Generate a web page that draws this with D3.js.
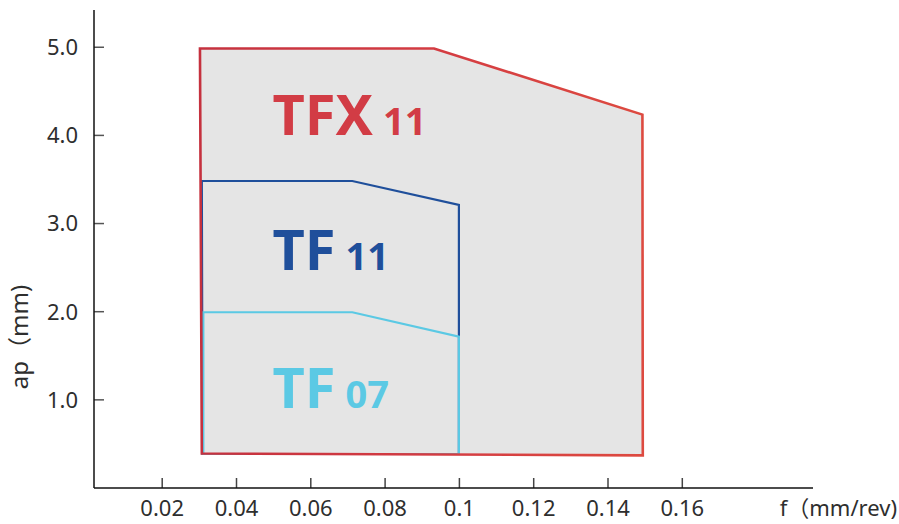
<!DOCTYPE html>
<html>
<head>
<meta charset="utf-8">
<script src="https://cdn.jsdelivr.net/npm/d3@7"></script>
<style>
  html, body { margin: 0; padding: 0; background: #fff; }
  svg { display: block; }
</style>
</head>
<body>
<svg id="chart" width="899" height="524"></svg>
<script>
// ---- data ----
const xTicks = [0.02, 0.04, 0.06, 0.08, 0.1, 0.12, 0.14, 0.16];
const xTickLabels = ["0.02", "0.04", "0.06", "0.08", "0.1", "0.12", "0.14", "0.16"];
const yTicks = [1, 2, 3, 4, 5];
const yTickLabels = ["1.0", "2.0", "3.0", "4.0", "5.0"];

// region outlines: [f (mm/rev), ap (mm)]
const tfx11 = [[0.0303, 4.98], [0.0933, 4.98], [0.1494, 4.23], [0.1495, 0.365], [0.0308, 0.385]];
const tf11  = [[0.0308, 3.477], [0.0713, 3.477], [0.1000, 3.205], [0.1000, 0.38], [0.0310, 0.38]];
const tf07  = [[0.0312, 1.988], [0.0713, 1.988], [0.1000, 1.711], [0.1000, 0.38], [0.0312, 0.38]];

const regionNames = ["TFX", "TF", "TF"];
const regionSizes = ["11", "11", "07"];
const regionLabelPos = [[0.0498, 4.0], [0.0498, 2.47], [0.0498, 0.9]];
const xTitle = "f（mm/rev)";
const yTitle = "ap（mm)";

// ---- layout ----
const svg = d3.select("#chart");
const FONT = "'Noto Sans', 'Noto Sans CJK KR', sans-serif";
const x = d3.scaleLinear().domain([0, 0.2]).range([87.4, 87.4 + 0.2 * 3715]);
const y = d3.scaleLinear().domain([0, 5]).range([487.5, 487.5 - 5 * 88.15]);
const axisLeftX = 94, axisBottomY = 488;

const line = d3.line().x(d => x(d[0])).y(d => y(d[1])).curve(d3.curveLinearClosed);

// fill
svg.append("path").attr("d", line(tfx11)).attr("fill", "#e5e5e5").attr("stroke", "none");
// inner outlines
svg.append("path").attr("d", line(tf11)).attr("fill", "none")
  .attr("stroke", "#1f4f9b").attr("stroke-width", 2.2).attr("stroke-linejoin", "miter");
svg.append("path").attr("d", line(tf07)).attr("fill", "none")
  .attr("stroke", "#5bc9e4").attr("stroke-width", 2.2).attr("stroke-linejoin", "miter");

// red outline with slight gradient
const defs = svg.append("defs");
const grad = defs.append("linearGradient").attr("id", "redg")
  .attr("gradientUnits", "userSpaceOnUse")
  .attr("x1", x(0.03)).attr("x2", x(0.15)).attr("y1", 0).attr("y2", 0);
grad.append("stop").attr("offset", 0).attr("stop-color", "#c5313e");
grad.append("stop").attr("offset", 0.5).attr("stop-color", "#d33b42");
grad.append("stop").attr("offset", 1).attr("stop-color", "#dd4a40");
svg.append("path").attr("d", line(tfx11)).attr("fill", "none")
  .attr("stroke", "url(#redg)").attr("stroke-width", 2.6).attr("stroke-linejoin", "miter");

// labels (big name + small size as separate texts)
const labelColors = ["#d23c45", "#1f4f9b", "#5bc9e4"];
regionNames.forEach((name, i) => {
  const x0 = x(regionLabelPos[i][0]);
  const y0 = y(regionLabelPos[i][1]);
  const big = svg.append("text")
    .attr("x", x0).attr("y", y0)
    .attr("fill", labelColors[i])
    .attr("font-family", FONT).attr("font-weight", 700).attr("font-size", 56)
    .text(name);
  const w = big.node().getComputedTextLength();
  svg.append("text")
    .attr("x", x0 + w + 10).attr("y", y0)
    .attr("fill", labelColors[i])
    .attr("font-family", FONT).attr("font-weight", 700).attr("font-size", 38)
    .text(regionSizes[i]);
});

// axes
const xAxis = d3.axisBottom(x).tickValues(xTicks)
  .tickFormat((d, i) => xTickLabels[i]).tickSizeInner(-10).tickSizeOuter(0).tickPadding(28);
const gx = svg.append("g").attr("transform", `translate(0,${axisBottomY})`).call(xAxis);
gx.select(".domain").remove();
gx.selectAll(".tick line").attr("stroke", "#444").attr("stroke-width", 1.5);
gx.selectAll(".tick text").attr("font-family", FONT).attr("font-size", 22).attr("fill", "#2e2e2e").attr("dy", 0);

const yAxis = d3.axisLeft(y).tickValues(yTicks)
  .tickFormat((d, i) => yTickLabels[i]).tickSizeInner(-10).tickSizeOuter(0).tickPadding(16);
const gy = svg.append("g").attr("transform", `translate(${axisLeftX},0)`).call(yAxis);
gy.select(".domain").remove();
gy.selectAll(".tick line").attr("stroke", "#555").attr("stroke-width", 1.5);
gy.selectAll(".tick text").attr("font-family", FONT).attr("font-size", 22).attr("fill", "#2e2e2e")
  .attr("dy", "0.36em");

// axis lines
svg.append("line").attr("x1", axisLeftX).attr("x2", axisLeftX).attr("y1", 10).attr("y2", axisBottomY)
  .attr("stroke", "#111").attr("stroke-width", 1.5);
svg.append("line").attr("x1", axisLeftX).attr("x2", 813).attr("y1", axisBottomY).attr("y2", axisBottomY)
  .attr("stroke", "#111").attr("stroke-width", 1.5);

// titles
svg.append("text").attr("x", 897).attr("y", 516).attr("text-anchor", "end")
  .attr("font-family", FONT).attr("font-size", 22).attr("fill", "#2e2e2e").text(xTitle);
svg.append("text").attr("transform", "translate(28,337) rotate(-90)").attr("text-anchor", "middle")
  .attr("font-family", FONT).attr("font-size", 24).attr("fill", "#2e2e2e").text(yTitle);
</script>
</body>
</html>
